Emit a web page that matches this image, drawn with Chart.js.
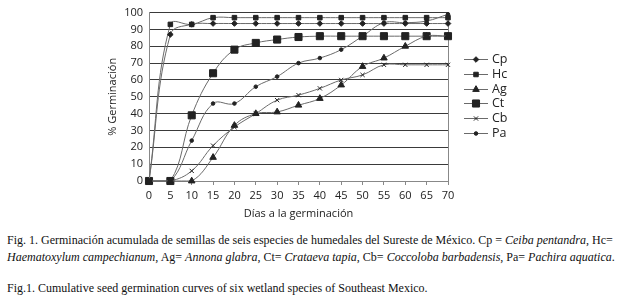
<!DOCTYPE html>
<html>
<head>
<meta charset="utf-8">
<script src="https://cdn.jsdelivr.net/npm/chart.js@4/dist/chart.umd.min.js"></script>
<style>
body { margin: 0; background: #fff; width: 638px; height: 301px; overflow: hidden; position: relative; }
#germChart { position: absolute; left: 0; top: 0; }
.leg { position: absolute; left: 464px; height: 14px; font: 12.5px 'Open Sans'; color: #222; white-space: nowrap; }
.leg canvas { position: absolute; left: 0; top: 1px; }
.leg span { position: absolute; left: 28px; top: -2px; }
.cap { position: absolute; left: 7px; font: 12px 'Liberation Serif'; color: #111; white-space: nowrap; }
</style>
</head>
<body>
<canvas id="germChart" width="638" height="222"></canvas>
<div id="legend"></div>
<div class="cap" style="top:233px">Fig. 1. Germinación acumulada de semillas de seis especies de humedales del Sureste de México. Cp = <i>Ceiba pentandra</i>, Hc=</div>
<div class="cap" style="top:250px"><i>Haematoxylum campechianum</i>, Ag= <i>Annona glabra</i>, Ct= <i>Crataeva tapia</i>, Cb= <i>Coccoloba barbadensis</i>, Pa= <i>Pachira aquatica</i>.</div>
<div class="cap" style="top:281px">Fig.1. Cumulative seed germination curves of six wetland species of Southeast Mexico.</div>
<script>
var days = [0, 5, 10, 15, 20, 25, 30, 35, 40, 45, 50, 55, 60, 65, 70];
var cp = [0, 87, 93, 93.5, 93.5, 93.5, 93.5, 93.5, 93.5, 93.5, 93.5, 93.5, 93.5, 93.5, 93.5];
var hc = [0, 93, 93, 97, 97, 97, 97, 97, 97, 97, 97, 97, 97, 97, 97];
var ag = [0, 0, 0, 14, 33, 40, 41, 45, 49, 57, 68, 73, 80, 86, 86];
var ct = [0, 0, 39, 64, 78, 82, 84, 85.5, 86, 86, 86, 86, 86, 86, 86];
var cb = [0, 0, 6, 21, 32, 40, 48, 51, 55, 60, 63, 69, 69, 69, 69];
var pa = [0, 0, 24, 46, 46, 56, 62, 70, 73, 78, 86, 94, 94, 95, 99];
var yTicks = [0, 10, 20, 30, 40, 50, 60, 70, 80, 90, 100];

var lineGray = '#6a6a6a';
var markGray = '#222';

function pts(arr) {
	return days.map(function (d, i) { return { x: d, y: arr[i] }; });
}

var series = [
	{ label: 'Cp', data: cp, style: 'rectRot', r: 2.8 },
	{ label: 'Hc', data: hc, style: 'rect', r: 3.2 },
	{ label: 'Ag', data: ag, style: 'triangle', r: 3.8 },
	{ label: 'Ct', data: ct, style: 'rect', r: 5 },
	{ label: 'Cb', data: cb, style: 'crossRot', r: 3 },
	{ label: 'Pa', data: pa, style: 'circle', r: 1.8 }
];

var ctx = document.getElementById('germChart').getContext('2d');
var germChart = new Chart(ctx, {
	type: 'line',
	data: {
		datasets: series.map(function (s) {
			return {
				label: s.label,
				data: pts(s.data),
				borderColor: lineGray,
				borderWidth: 1,
				backgroundColor: markGray,
				pointBackgroundColor: markGray,
				pointBorderColor: markGray,
				pointBorderWidth: 1,
				pointStyle: s.style,
				pointRadius: s.r,
				tension: 0.4,
				clip: false
			};
		})
	},
	options: {
		responsive: false,
		animation: false,
		layout: { padding: { left: 106, right: 190, top: 11, bottom: 2 } },
		plugins: {
			legend: { display: false },
			tooltip: { enabled: false }
		},
		scales: {
			x: {
				type: 'linear',
				min: 0,
				max: 70,
				afterFit: function (scale) { scale.height = 39; },
				ticks: { stepSize: 5, padding: 4, color: '#222', font: { family: 'Open Sans', size: 11 } },
				grid: { drawOnChartArea: false, drawTicks: true, tickLength: 4, color: '#888' },
				border: { color: '#888' },
				title: { display: true, text: 'Días a la germinación', color: '#222', padding: 0, font: { family: 'Open Sans', size: 11 } }
			},
			y: {
				min: 0,
				max: 100,
				afterFit: function (scale) { scale.width = 43; },
				afterBuildTicks: function (scale) { scale.ticks = yTicks.map(function (v) { return { value: v }; }); },
				ticks: { padding: 6, color: '#222', font: { family: 'Open Sans', size: 11 } },
				grid: { color: '#3a3a3a', lineWidth: 1, drawTicks: false },
				border: { color: '#888' },
				title: { display: true, text: '% Germinación', color: '#222', padding: 0, font: { family: 'Open Sans', size: 11 } }
			},
			y2: {
				position: 'right',
				min: 0,
				max: 100,
				afterFit: function (scale) { scale.width = 0; },
				ticks: { display: false },
				grid: { drawOnChartArea: false, drawTicks: false },
				border: { color: '#888' }
			}
		}
	}
});

// legend: short line with the series marker, then the label
var legendBox = document.getElementById('legend');
series.forEach(function (s, i) {
	var item = document.createElement('div');
	item.className = 'leg';
	item.style.top = (52 + i * 14.8) + 'px';
	var c = document.createElement('canvas');
	c.width = 24;
	c.height = 13;
	var t = document.createElement('span');
	t.textContent = s.label;
	item.appendChild(c);
	item.appendChild(t);
	legendBox.appendChild(item);
	var g = c.getContext('2d');
	g.strokeStyle = lineGray;
	g.lineWidth = 1;
	g.beginPath();
	g.moveTo(0, 6.5);
	g.lineTo(24, 6.5);
	g.stroke();
	g.fillStyle = markGray;
	g.strokeStyle = markGray;
	Chart.helpers.drawPoint(g, { pointStyle: s.style, radius: s.r, borderWidth: 1 }, 12, 6.5);
});
</script>
</body>
</html>
